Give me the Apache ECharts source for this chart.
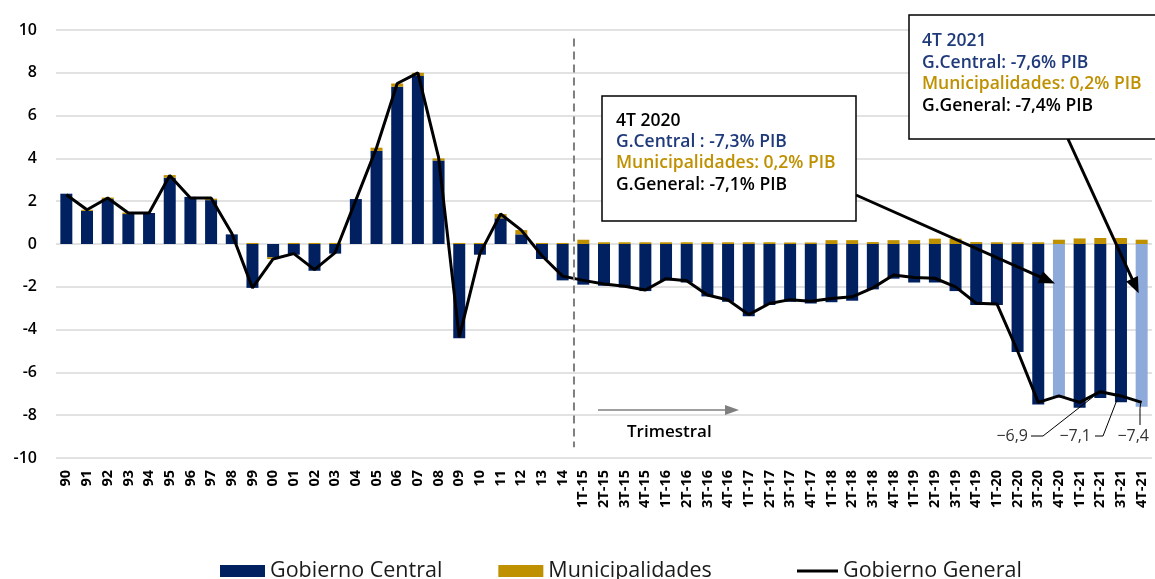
<!DOCTYPE html>
<html>
<head>
<meta charset="utf-8">
<script src="https://cdn.jsdelivr.net/npm/echarts@6.0.0/dist/echarts.min.js"></script>
<style>
html,body{margin:0;padding:0;background:#fff;}
#c{width:1155px;height:579px;}
</style>
</head>
<body>
<div id="c"></div>
<script>
// ---- data ----
const categories = ['90','91','92','93','94','95','96','97','98','99','00','01','02','03','04','05','06','07','08','09','10','11','12','13','14',
  '1T-15','2T-15','3T-15','4T-15','1T-16','2T-16','3T-16','4T-16','1T-17','2T-17','3T-17','4T-17','1T-18','2T-18','3T-18','4T-18',
  '1T-19','2T-19','3T-19','4T-19','1T-20','2T-20','3T-20','4T-20','1T-21','2T-21','3T-21','4T-21'];
const gobiernoCentral = [2.35,1.55,2.1,1.4,1.45,3.1,2.2,2.05,0.45,-2.05,-0.62,-0.5,-1.25,-0.45,2.1,4.35,7.35,7.85,3.9,-4.4,-0.5,1.2,0.45,-0.7,-1.7,
  -1.9,-1.95,-2.03,-2.2,-1.7,-1.8,-2.45,-2.7,-3.38,-2.85,-2.7,-2.78,-2.72,-2.65,-2.12,-1.62,
  -1.8,-1.8,-2.2,-2.85,-2.85,-5.05,-7.5,-7.2,-7.65,-7.2,-7.4,-7.6];
const municipalidades = [0,0.05,0.07,0.07,0,0.12,0,0.07,0,0.05,-0.08,0.05,0.05,0.05,0,0.15,0.15,0.15,0.1,0.05,0.05,0.2,0.2,0.05,0.05,
  0.2,0.08,0.08,0.08,0.08,0.08,0.08,0.08,0.08,0.08,0.07,0.07,0.18,0.18,0.09,0.18,
  0.18,0.25,0.25,0.09,0.08,0.08,0.08,0.2,0.26,0.28,0.28,0.2];
const gobiernoGeneral = [2.3,1.6,2.15,1.45,1.45,3.2,2.15,2.15,0.5,-2.05,-0.7,-0.45,-1.2,-0.4,2.05,4.5,7.5,8.0,4.05,-4.35,-0.45,1.4,0.65,-0.55,-1.5,
  -1.7,-1.87,-1.97,-2.15,-1.62,-1.72,-2.38,-2.62,-3.3,-2.78,-2.6,-2.68,-2.55,-2.47,-2.05,-1.45,
  -1.57,-1.6,-2.0,-2.77,-2.8,-5.0,-7.4,-7.1,-7.4,-6.9,-7.1,-7.4];
const highlightedCats = ['4T-20','4T-21'];
const labeledCats = ['2T-21','3T-21','4T-21'];
const yMin = -10, yMax = 10, yStep = 2;
const seriesNames = ['Gobierno Central','Municipalidades','Gobierno General'];
const box2020 = ['4T 2020','G.Central : -7,3% PIB','Municipalidades: 0,2% PIB','G.General: -7,1% PIB'];
const box2021 = ['4T 2021','G.Central: -7,6% PIB','Municipalidades: 0,2% PIB','G.General: -7,4% PIB'];
const periodLabel = 'Trimestral';
const splitBetween = ['14','1T-15'];

// ---- styles ----
const NAVY = '#002060', LIGHT = '#8eaadb', GOLD = '#bf9000';
const FONT = '"Open Sans", "Noto Sans", sans-serif';

const chart = echarts.init(document.getElementById('c'), null, {renderer:'canvas'});

const legendText = {fontFamily:FONT, fontSize:21.5, color:'#1a1a1a'};
const option = {
  animation:false,
  backgroundColor:'#fff',
  grid:{left:56, right:3, top:30, bottom:121, containLabel:false, outerBoundsMode:'none'},
  legend:[
    {left:215, top:555, itemWidth:45, itemHeight:12, itemGap:56, textStyle:legendText,
     data:[{name:seriesNames[0], icon:'rect'},{name:seriesNames[1], icon:'rect'}]},
    {left:792, top:555, itemWidth:41, itemHeight:12, textStyle:legendText,
     data:[{name:seriesNames[2], icon:'path://M0,0H40V3H0Z'}]}
  ],
  xAxis:{
    type:'category', data:categories, position:'bottom',
    axisLine:{show:false, onZero:false}, axisTick:{show:false},
    axisLabel:{rotate:90, interval:0, margin:12, fontFamily:FONT, fontSize:14.5, fontWeight:'bold', color:'#000'},
    splitLine:{show:false}
  },
  yAxis:{
    type:'value', min:yMin, max:yMax, interval:yStep,
    axisLine:{show:false}, axisTick:{show:false},
    axisLabel:{margin:19, fontFamily:FONT, fontSize:16, fontWeight:600, color:'#000'},
    splitLine:{lineStyle:{color:'#d9d9d9', width:1.5}}
  },
  series:[
    {name:seriesNames[0], type:'bar', stack:'s', barCategoryGap:'42%',
     itemStyle:{color:NAVY},
     data:gobiernoCentral.map((v,i)=> highlightedCats.includes(categories[i]) ? {value:v, itemStyle:{color:LIGHT}} : v)},
    {name:seriesNames[1], type:'bar', stack:'s', itemStyle:{color:GOLD}, data:municipalidades},
    {name:seriesNames[2], type:'line', symbol:'none', z:5,
     lineStyle:{color:'#000', width:3}, itemStyle:{color:'#000'}, data:gobiernoGeneral}
  ]
};
chart.setOption(option);

function px(cat, v){ return chart.convertToPixel({xAxisIndex:0, yAxisIndex:0}, [cat, v]); }
function arrow(x1,y1,x2,y2,w,hl,hw,color){
  const dx=x2-x1, dy=y2-y1, L=Math.hypot(dx,dy), ux=dx/L, uy=dy/L;
  const bx=x2-ux*hl, by=y2-uy*hl, nx=-uy, ny=ux;
  return [
    {type:'line', shape:{x1:x1,y1:y1,x2:bx+ux*1,y2:by+uy*1}, style:{stroke:color, lineWidth:w}, z:50},
    {type:'polygon', shape:{points:[[x2,y2],[bx+nx*hw/2,by+ny*hw/2],[bx-nx*hw/2,by-ny*hw/2]]}, style:{fill:color}, z:50}
  ];
}
function textEl(t,x,y,color,opts){
  opts = opts||{};
  return {type:'text', z:60, style:{text:t, x:x, y:y, fill:color,
    font:(opts.weight||'normal')+' '+(opts.size||15)+'px '+FONT, align:opts.align||'left', verticalAlign:'middle'}};
}
function box(x,y,w,h,lines,colors,tx,ty,gap){
  const els=[{type:'rect', shape:{x:x,y:y,width:w,height:h}, style:{fill:'#fff', stroke:'#000', lineWidth:1.5}, z:55}];
  lines.forEach((t,i)=>els.push(textEl(t,tx,ty+i*gap,colors[i],{size:17.5, weight:600})));
  return els;
}
function fmt(v){ return (v<0?'\u2212':'')+Math.abs(v).toFixed(1).replace('.',','); }

const g=[];
// dashed separator between annual and quarterly data
const xa=px(splitBetween[0],0)[0], xb=px(splitBetween[1],0)[0];
const xs=(xa+xb)/2+1;
g.push({type:'line', shape:{x1:xs,y1:px(splitBetween[0],9.6)[1],x2:xs,y2:px(splitBetween[0],-9.5)[1]},
  style:{stroke:'#7f7f7f', lineWidth:2, lineDash:[8,5]}, z:40});
// Trimestral arrow + text
g.push(...arrow(598,410,739,410,1.5,14,10,'#7f7f7f'));
g.push(textEl(periodLabel,627,432,'#000',{size:17, weight:600}));
// annotation boxes
g.push(...box(602,96,254,125,box2020,['#000','#1f3a7a',GOLD,'#000'],616,121,21.2));
g.push(...box(909,15,260,124,box2021,['#1f3a7a','#1f3a7a',GOLD,'#000'],922,41,21.7));
// arrows from boxes to highlighted bars
const t1=px(highlightedCats[0],-1.85), t2=px(highlightedCats[1],-2.3);
g.push(...arrow(856,195,t1[0]-4,t1[1],3,16,13,'#000'));
g.push(...arrow(1068,139,t2[0]-3,t2[1],3,16,13,'#000'));
// value labels for the last quarters of the Gobierno General line
const p1=px(labeledCats[0],gobiernoGeneral[categories.indexOf(labeledCats[0])]);
const p2=px(labeledCats[1],gobiernoGeneral[categories.indexOf(labeledCats[1])]);
const p3=px(labeledCats[2],gobiernoGeneral[categories.indexOf(labeledCats[2])]);
const lblY=436, LC='#333';
g.push(textEl(fmt(gobiernoGeneral[categories.indexOf(labeledCats[0])]),1028,lblY,LC,{align:'right', size:16}));
g.push({type:'polyline', shape:{points:[[1031,lblY],[1043,lblY],[p1[0]-7,p1[1]+5]]}, style:{stroke:'#000', lineWidth:1, fill:null}, z:45});
g.push(textEl(fmt(gobiernoGeneral[categories.indexOf(labeledCats[1])]),1091,lblY,LC,{align:'right', size:16}));
g.push({type:'polyline', shape:{points:[[1095,lblY],[1103,lblY],[p2[0]-4,p2[1]+4]]}, style:{stroke:'#000', lineWidth:1, fill:null}, z:45});
g.push(textEl(fmt(gobiernoGeneral[categories.indexOf(labeledCats[2])]),1149,lblY,LC,{align:'right', size:16}));
g.push({type:'polyline', shape:{points:[[1140,lblY-11],[1140,p3[1]+6],[p3[0]-1,p3[1]+1]]}, style:{stroke:'#000', lineWidth:1, fill:null}, z:45});

chart.setOption({graphic:g});
</script>
</body>
</html>
